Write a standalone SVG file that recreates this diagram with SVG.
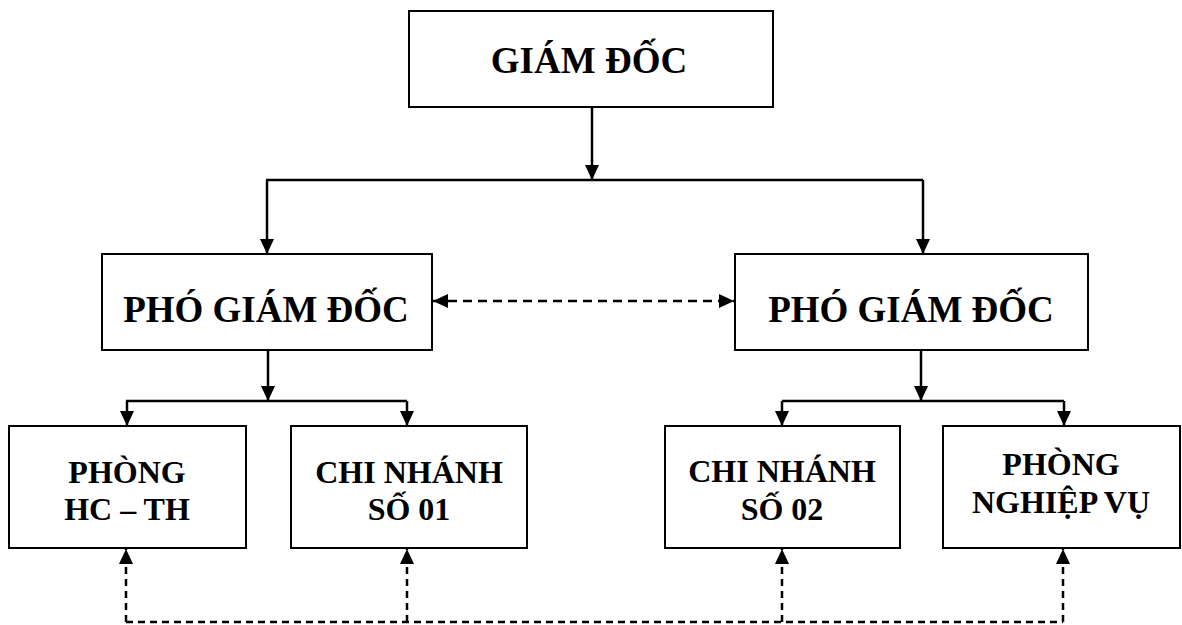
<svg xmlns="http://www.w3.org/2000/svg" width="1182" height="625" viewBox="0 0 1182 625">
<style>
.box{fill:#fff;stroke:#000;stroke-width:2}
.t{font-family:"Liberation Serif","Times New Roman",serif;font-weight:bold;fill:#000;text-anchor:middle}
.big{font-size:37px}
.sm{font-size:32px}
.ln{fill:none;stroke:#000;stroke-width:2.5}
.ds{fill:none;stroke:#000;stroke-width:2.5;stroke-dasharray:9 6}
.ds2{fill:none;stroke:#000;stroke-width:2.5;stroke-dasharray:7 5}
</style>
<defs>
<marker id="ah" markerUnits="userSpaceOnUse" markerWidth="16" markerHeight="16" refX="15" refY="7" orient="auto">
<path d="M0,0 L15,7 L0,14 Z" fill="#000"/>
</marker>
<marker id="ahs" markerUnits="userSpaceOnUse" markerWidth="16" markerHeight="16" refX="0" refY="7" orient="auto">
<path d="M15,0 L0,7 L15,14 Z" fill="#000"/>
</marker>
</defs>
<rect width="1182" height="625" fill="#fff"/>
<g id="connectors">
<path class="ln" d="M592,107 L592,180" marker-end="url(#ah)"/>
<path class="ln" d="M266,180 L923,180"/>
<path class="ln" d="M267,180 L267,254" marker-end="url(#ah)"/>
<path class="ln" d="M923,180 L923,254" marker-end="url(#ah)"/>
<path class="ds" d="M433,301 L734,301" marker-start="url(#ahs)" marker-end="url(#ah)"/>
<path class="ln" d="M268,350 L268,401" marker-end="url(#ah)"/>
<path class="ln" d="M126,401 L407,401"/>
<path class="ln" d="M127,401 L127,426" marker-end="url(#ah)"/>
<path class="ln" d="M407,401 L407,426" marker-end="url(#ah)"/>
<path class="ln" d="M921,350 L921,401" marker-end="url(#ah)"/>
<path class="ln" d="M782,401 L1064,401"/>
<path class="ln" d="M782,401 L782,426" marker-end="url(#ah)"/>
<path class="ln" d="M1064,401 L1064,426" marker-end="url(#ah)"/>
<path class="ds2" d="M126,622 L1063,622"/>
<path class="ds2" d="M126,622 L126,549" marker-end="url(#ah)"/>
<path class="ds2" d="M407,622 L407,549" marker-end="url(#ah)"/>
<path class="ds2" d="M782,622 L782,549" marker-end="url(#ah)"/>
<path class="ds2" d="M1063,622 L1063,549" marker-end="url(#ah)"/>
</g>
<g id="giam-doc">
<rect class="box" x="409" y="11" width="364" height="96"/>
<text class="t big" x="589" y="73">GIÁM ĐỐC</text>
</g>
<g id="pho-giam-doc-1">
<rect class="box" x="102" y="254" width="330" height="96"/>
<text class="t big" x="266" y="322">PHÓ GIÁM ĐỐC</text>
</g>
<g id="pho-giam-doc-2">
<rect class="box" x="735" y="254" width="353" height="96"/>
<text class="t big" x="911" y="322">PHÓ GIÁM ĐỐC</text>
</g>
<g id="phong-hc-th">
<rect class="box" x="9" y="426" width="237" height="122"/>
<text class="t sm" x="127" y="483">PHÒNG</text>
<text class="t sm" x="127" y="520">HC – TH</text>
</g>
<g id="chi-nhanh-01">
<rect class="box" x="291" y="426" width="236" height="122"/>
<text class="t sm" x="409" y="483">CHI NHÁNH</text>
<text class="t sm" x="409" y="520">SỐ 01</text>
</g>
<g id="chi-nhanh-02">
<rect class="box" x="665" y="426" width="235" height="122"/>
<text class="t sm" x="782" y="482">CHI NHÁNH</text>
<text class="t sm" x="782" y="520">SỐ 02</text>
</g>
<g id="phong-nghiep-vu">
<rect class="box" x="943" y="426" width="237" height="122"/>
<text class="t sm" x="1061" y="475">PHÒNG</text>
<text class="t sm" x="1061" y="513">NGHIỆP VỤ</text>
</g>
</svg>
